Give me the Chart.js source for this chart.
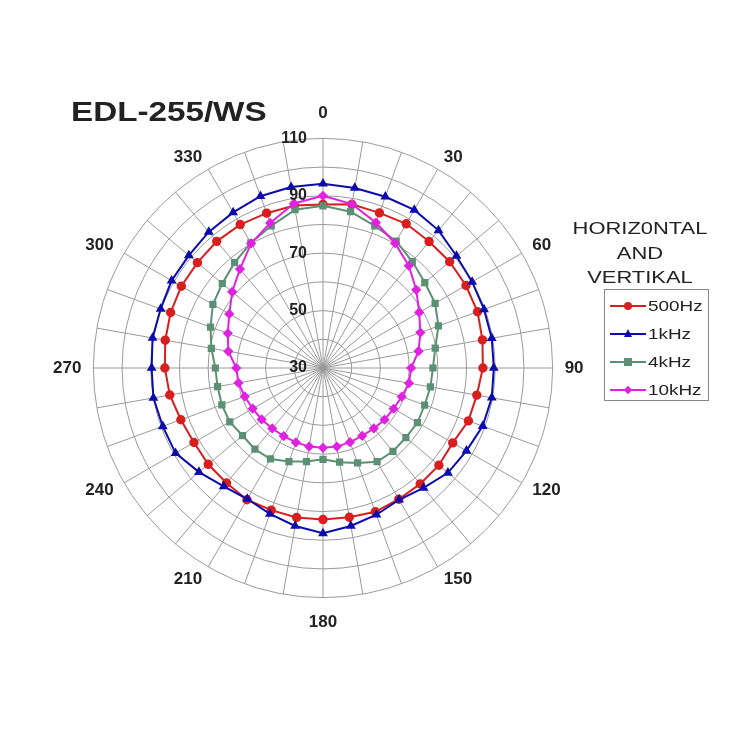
<!DOCTYPE html>
<html>
<head>
<meta charset="utf-8">
<script src="https://cdn.jsdelivr.net/npm/chart.js@4.4.1/dist/chart.umd.min.js"></script>
<style>
body { margin: 0; background: #fff; font-family: "Liberation Sans", Arial, sans-serif; }
#wrap { position: relative; width: 750px; height: 750px; }
#polar { position: absolute; left: 0; top: 0; }
.title { position: absolute; left: 71px; top: 99px; font-size: 27px; line-height: 27px; font-weight: bold; color: #222; transform: scaleX(1.23); transform-origin: left center; white-space: nowrap; }
.legTitle { position: absolute; left: 560px; width: 160px; top: 217px; font-size: 16px; line-height: 24.5px; color: #222; text-align: center; }
.legTitle div { transform: scaleX(1.37); }
.legBox { position: absolute; left: 604px; top: 289px; width: 103px; height: 110px; border: 1px solid #888; }
.item { position: absolute; left: 0; width: 103px; height: 20px; }
.item .ln { position: absolute; left: 5px; top: 9px; width: 36px; height: 2px; }
.item .mk { position: absolute; }
.item .tx { position: absolute; left: 43px; top: 0; font-size: 14px; line-height: 20px; color: #222; transform: scaleX(1.35); transform-origin: left center; white-space: nowrap; }
</style>
</head>
<body>
<div id="wrap">
  <canvas id="polar" width="750" height="750"></canvas>
  <div class="title">EDL-255/WS</div>
  <div class="legTitle"><div>HORIZ0NTAL</div><div>AND</div><div>VERTIKAL</div></div>
  <div class="legBox" id="legend"></div>
</div>
<script>
// angles in degrees, 0 at top, clockwise
var angles = [0, 10, 20, 30, 40, 50, 60, 70, 80, 90, 100, 110, 120, 130, 140, 150, 160, 170,
	180, 190, 200, 210, 220, 230, 240, 250, 260, 270, 280, 290, 300, 310, 320, 330, 340, 350];
var angleLabels = [0, 30, 60, 90, 120, 150, 180, 210, 240, 270, 300, 330];
var levelLabels = [30, 50, 70, 90, 110];

// level in dB, one value per angle
var hz500 = [87.0, 87.9, 87.5, 88.0, 87.5, 87.6, 87.5, 87.3, 86.4, 85.7, 84.4, 83.9, 82.2, 82.7, 82.7, 82.8, 83.3, 82.8,
	82.8, 82.9, 82.7, 83.0, 82.3, 82.2, 81.9, 82.7, 84.2, 85.1, 85.8, 86.5, 87.0, 87.1, 87.6, 87.7, 87.4, 87.5];
var khz1 = [94.2, 93.7, 93.5, 93.6, 92.6, 90.7, 90.0, 89.7, 89.7, 89.5, 89.7, 89.2, 87.7, 86.8, 84.5, 83.0, 84.4, 85.9,
	87.6, 85.9, 84.1, 82.7, 83.8, 86.4, 89.3, 89.4, 90.0, 89.7, 90.3, 90.2, 90.9, 91.0, 91.9, 92.6, 93.7, 94.0];
var khz4 = [86.5, 85.3, 82.7, 81.0, 78.4, 76.3, 75.1, 72.8, 69.7, 68.3, 68.0, 67.7, 68.0, 67.7, 67.9, 67.7, 65.2, 63.3,
	61.8, 63.1, 64.7, 66.6, 66.9, 66.6, 67.5, 67.5, 67.3, 67.5, 69.5, 71.7, 74.3, 75.8, 77.9, 80.3, 82.7, 86.0];
var khz10 = [90.0, 88.0, 83.9, 80.2, 76.5, 72.4, 68.7, 66.1, 63.8, 60.7, 60.4, 59.2, 58.4, 58.0, 57.5, 57.3, 57.5, 57.8,
	57.8, 57.8, 57.6, 57.4, 57.5, 57.9, 58.3, 59.0, 59.9, 60.2, 63.5, 65.3, 67.7, 71.3, 75.0, 80.1, 83.8, 88.2];

var series = [
	{ label: "500Hz", data: hz500, color: "#d81e1e", style: "circle", order: 3 },
	{ label: "1kHz", data: khz1, color: "#0b0bae", style: "triangle", order: 2 },
	{ label: "4kHz", data: khz4, color: "#5c9074", style: "rect", order: 1 },
	{ label: "10kHz", data: khz10, color: "#e022e0", style: "rectRot", order: 0 }
];

var datasets = [];
for (var i = 0; i < series.length; i++) {
	datasets.push({
		label: series[i].label,
		data: series[i].data,
		borderColor: series[i].color,
		backgroundColor: series[i].color,
		pointBackgroundColor: series[i].color,
		pointBorderColor: series[i].color,
		pointStyle: series[i].style,
		pointRadius: 3.7,
		borderWidth: 2,
		fill: false,
		tension: 0,
		order: series[i].order
	});
}

// level labels drawn just left of the 0 degree axis
var levelLabelPlugin = {
	id: 'levelLabels',
	afterDraw: function(chart) {
		var r = chart.scales.r;
		var ctx = chart.ctx;
		ctx.save();
		ctx.font = 'bold 16px "Liberation Sans", Arial, sans-serif';
		ctx.fillStyle = '#222';
		ctx.textAlign = 'right';
		ctx.textBaseline = 'middle';
		for (var i = 0; i < levelLabels.length; i++) {
			var v = levelLabels[i];
			ctx.fillText(String(v), r.xCenter - 16, r.yCenter - r.getDistanceFromCenterForValue(v));
		}
		ctx.restore();
	}
};

var ctx = document.getElementById("polar").getContext("2d");
var polarChart = new Chart(ctx, {
	type: 'radar',
	data: { labels: angles, datasets: datasets },
	options: {
		responsive: false,
		animation: false,
		layout: { padding: { left: 49, right: 161, top: 98, bottom: 112 } },
		plugins: { legend: { display: false }, tooltip: { enabled: false } },
		scales: {
			r: {
				min: 30,
				max: 110,
				ticks: { stepSize: 10, display: false },
				grid: { circular: true, color: '#9a9a9a', lineWidth: 1 },
				angleLines: { color: '#9a9a9a', lineWidth: 1 },
				pointLabels: {
					color: '#222',
					font: { family: '"Liberation Sans", Arial, sans-serif', size: 17, weight: 'bold', lineHeight: 0.2 },
					padding: function(c) {
						if (c.index === 0 || c.index === 18) return 23;
						if (c.index === 9 || c.index === 27) return 12;
						return 12;
					},
					callback: function(label) {
						return angleLabels.indexOf(label) >= 0 ? String(label) : '';
					}
				}
			}
		}
	},
	plugins: [levelLabelPlugin]
});

// legend: line with marker and name
var legend = document.getElementById("legend");
var rowTops = [6, 34, 62, 90];
for (var j = 0; j < series.length; j++) {
	var s = series[j];
	var row = document.createElement("div");
	row.className = "item";
	row.style.top = rowTops[j] + "px";
	var ln = document.createElement("div");
	ln.className = "ln";
	ln.style.background = s.color;
	row.appendChild(ln);
	var mk = document.createElement("div");
	mk.className = "mk";
	if (s.style === "circle") {
		mk.style.cssText = "left:19px;top:6px;width:8px;height:8px;border-radius:50%;background:" + s.color;
	} else if (s.style === "triangle") {
		mk.style.cssText = "left:19px;top:5px;width:0;height:0;border-left:4px solid transparent;border-right:4px solid transparent;border-bottom:8px solid " + s.color;
	} else if (s.style === "rect") {
		mk.style.cssText = "left:19px;top:6px;width:8px;height:8px;background:" + s.color;
	} else {
		mk.style.cssText = "left:20px;top:7px;width:6px;height:6px;transform:rotate(45deg);background:" + s.color;
	}
	row.appendChild(mk);
	var tx = document.createElement("div");
	tx.className = "tx";
	tx.textContent = s.label;
	row.appendChild(tx);
	legend.appendChild(row);
}
</script>
</body>
</html>
